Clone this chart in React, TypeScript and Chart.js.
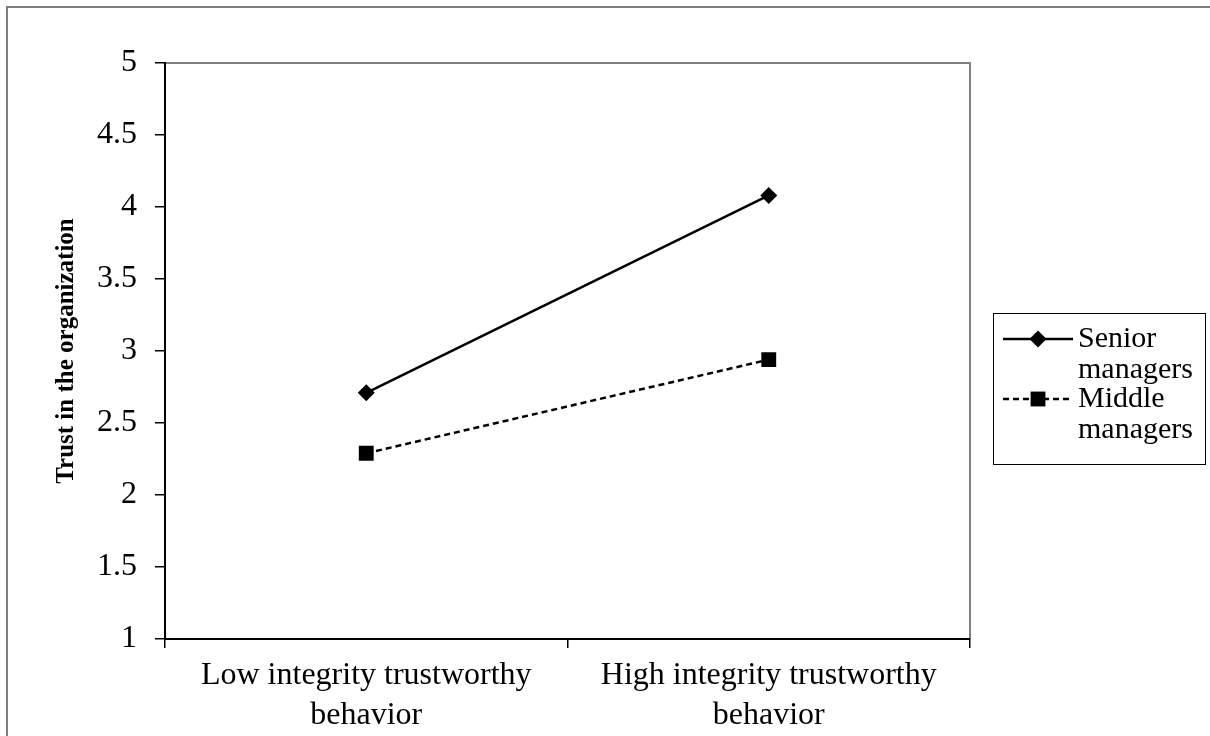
import React, { useEffect, useRef } from 'react';
import { Chart, registerables } from 'chart.js';

Chart.register(...registerables);

const categories: string[][] = [
  ['Low integrity trustworthy', 'behavior'],
  ['High integrity trustworthy', 'behavior'],
];
const seniorValues = [2.71, 4.08];
const middleValues = [2.29, 2.94];
const seriesNames = ['Senior managers', 'Middle managers'];
const legendLines: string[][] = [
  ['Senior', 'managers'],
  ['Middle', 'managers'],
];
const yMin = 1;
const yMax = 5;
const yStep = 0.5;
const yTitle = 'Trust in the organization';

const FONT = "'Liberation Serif', 'Times New Roman', serif";

const framePlugin = {
  id: 'frame',
  beforeDraw(chart: any) {
    const ctx = chart.ctx;
    ctx.save();
    ctx.fillStyle = '#fff';
    ctx.fillRect(0, 0, chart.width, chart.height);
    ctx.strokeStyle = '#7f7f7f';
    ctx.lineWidth = 2;
    ctx.beginPath();
    ctx.moveTo(7, chart.height);
    ctx.lineTo(7, 7);
    ctx.lineTo(chart.width, 7);
    ctx.stroke();
    const a = chart.chartArea;
    ctx.strokeStyle = '#808080';
    ctx.lineWidth = 2;
    ctx.beginPath();
    ctx.moveTo(a.left, a.top);
    ctx.lineTo(a.right, a.top);
    ctx.lineTo(a.right, a.bottom);
    ctx.stroke();
    ctx.restore();
  },
};

function drawMarker(ctx: CanvasRenderingContext2D, style: string, r: number, x: number, y: number) {
  ctx.beginPath();
  if (style === 'rectRot') {
    ctx.moveTo(x, y - r);
    ctx.lineTo(x + r, y);
    ctx.lineTo(x, y + r);
    ctx.lineTo(x - r, y);
    ctx.closePath();
  } else {
    const s = Math.SQRT1_2 * r;
    ctx.rect(x - s, y - s, 2 * s, 2 * s);
  }
  ctx.fill();
}

const legendPlugin = {
  id: 'boxLegend',
  afterDraw(chart: any) {
    const ctx: CanvasRenderingContext2D = chart.ctx;
    ctx.save();
    const bx = 993.5, by = 313.5, bw = 212, bh = 151;
    ctx.strokeStyle = '#000';
    ctx.lineWidth = 1;
    ctx.strokeRect(bx, by, bw, bh);
    const rowY = [339, 399];
    chart.data.datasets.forEach((ds: any, i: number) => {
      const y = rowY[i];
      ctx.strokeStyle = ds.borderColor;
      ctx.lineWidth = ds.borderWidth;
      ctx.setLineDash(ds.borderDash || []);
      ctx.beginPath();
      ctx.moveTo(1003, y);
      ctx.lineTo(1073, y);
      ctx.stroke();
      ctx.setLineDash([]);
      ctx.fillStyle = ds.pointBackgroundColor;
      drawMarker(ctx, ds.pointStyle, ds.pointRadius, 1038, y);
      ctx.fillStyle = '#000';
      ctx.font = `30px ${FONT}`;
      ctx.textBaseline = 'middle';
      ctx.textAlign = 'left';
      legendLines[i].forEach((t, j) => {
        ctx.fillText(t, 1078, y + j * 31);
      });
    });
    ctx.restore();
  },
};

export default function App() {
  const ref = useRef<HTMLCanvasElement>(null);
  useEffect(() => {
    if (!ref.current) return;
    const chart = new Chart(ref.current, {
      type: 'line',
      data: {
        labels: categories as any,
        datasets: [
          {
            label: seriesNames[0],
            data: seniorValues,
            borderColor: '#000',
            backgroundColor: '#000',
            pointBackgroundColor: '#000',
            pointBorderColor: '#000',
            pointBorderWidth: 0,
            borderWidth: 2.5,
            pointStyle: 'rectRot',
            pointRadius: 8.5,
            tension: 0,
            fill: false,
          } as any,
          {
            label: seriesNames[1],
            data: middleValues,
            borderColor: '#000',
            backgroundColor: '#000',
            pointBackgroundColor: '#000',
            pointBorderColor: '#000',
            pointBorderWidth: 0,
            borderWidth: 2.5,
            borderDash: [6, 4],
            pointStyle: 'rect',
            pointRadius: 10.5,
            tension: 0,
            fill: false,
          } as any,
        ],
      },
      options: {
        responsive: false,
        animation: false,
        devicePixelRatio: 1,
        layout: { padding: { left: 0, top: 63, right: 240, bottom: 0 } },
        plugins: {
          legend: { display: false },
          tooltip: { enabled: false },
        },
        scales: {
          x: {
            offset: true,
            grid: {
              offset: true,
              drawOnChartArea: false,
              tickLength: 9,
              color: '#000',
              lineWidth: 1.5,
            },
            border: { color: '#000', width: 2 },
            ticks: {
              color: '#000',
              font: { family: FONT, size: 32, lineHeight: 1.25 },
              padding: 8,
              maxRotation: 0,
              autoSkip: false,
            },
            afterFit: (s: any) => {
              s.height = 97;
            },
          },
          y: {
            min: yMin,
            max: yMax,
            grid: {
              drawOnChartArea: false,
              tickLength: 10,
              color: '#000',
              lineWidth: 1.5,
            },
            border: { color: '#000', width: 2 },
            ticks: {
              stepSize: yStep,
              color: '#000',
              font: { family: FONT, size: 32 },
              padding: 18,
              callback: (v: any) => String(v),
            },
            title: {
              display: true,
              text: yTitle,
              color: '#000',
              font: { family: FONT, size: 25, weight: 'bold' },
              padding: { top: 52, bottom: 0 },
            },
            afterFit: (s: any) => {
              s.width = 165;
            },
          },
        },
      } as any,
      plugins: [framePlugin, legendPlugin],
    });
    return () => chart.destroy();
  }, []);
  return (
    <div style={{ position: 'absolute', left: 0, top: 0, width: 1210, height: 736 }}>
      <canvas ref={ref} width={1210} height={736} style={{ display: 'block' }} />
    </div>
  );
}
